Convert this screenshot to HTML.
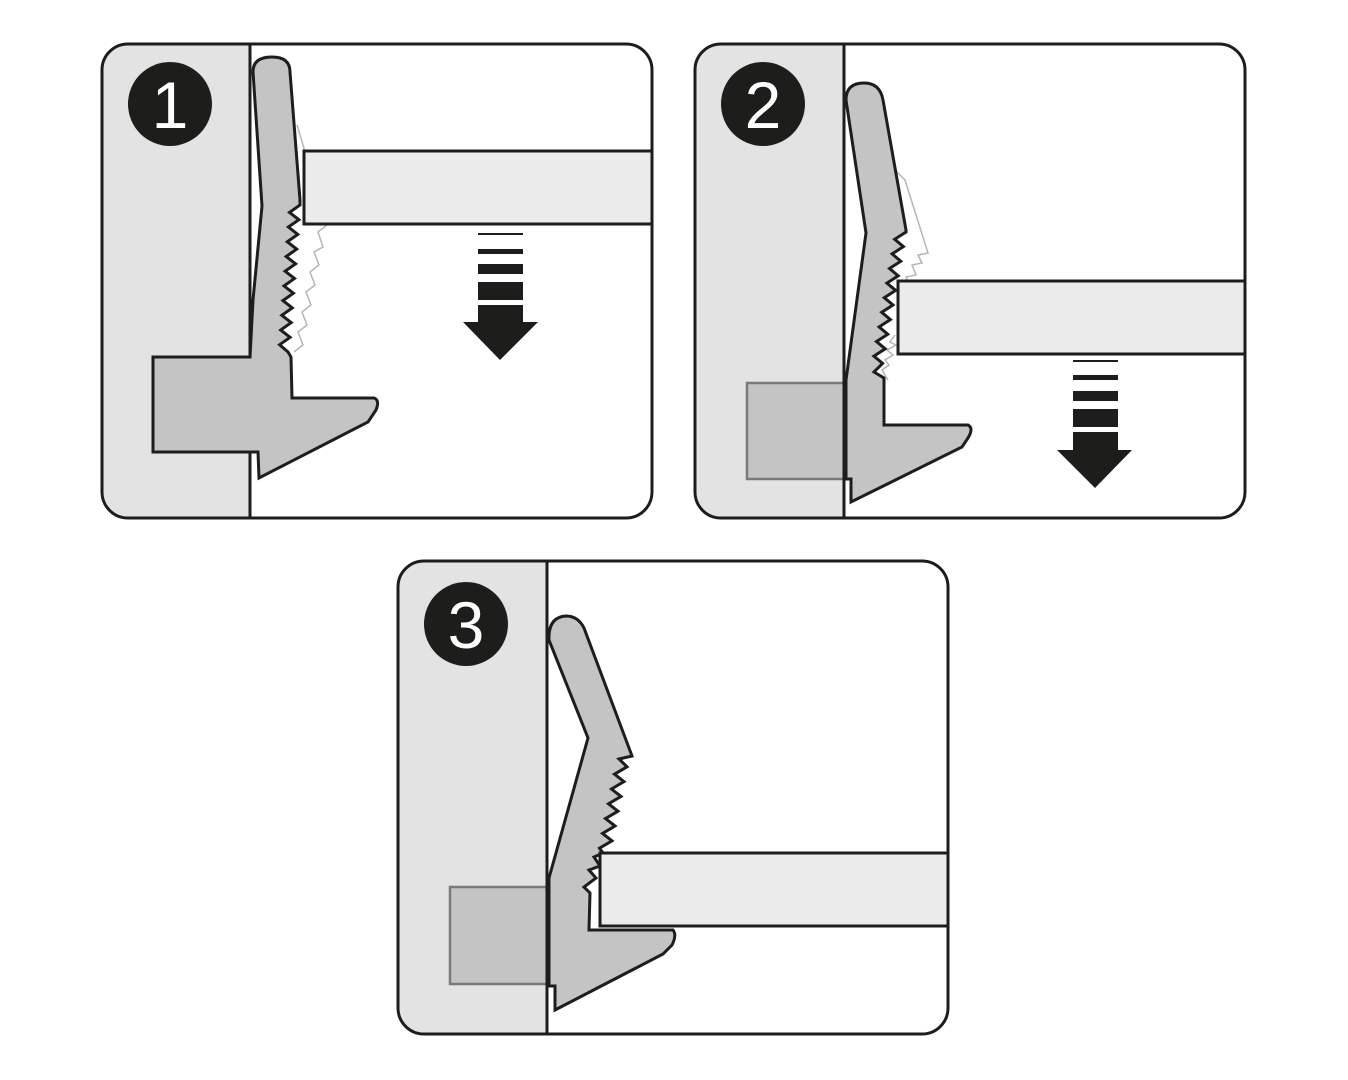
<!DOCTYPE html>
<html><head><meta charset="utf-8"><style>
html,body{margin:0;padding:0;background:#fff;width:1348px;height:1080px;overflow:hidden}
svg{display:block}
text{font-family:"Liberation Sans",sans-serif;font-weight:normal;fill:#fff}
</style></head><body>
<svg width="1348" height="1080" viewBox="0 0 1348 1080">
<defs>
<clipPath id="c1"><rect x="102" y="44" width="550" height="474" rx="26"/></clipPath>
<clipPath id="c2"><rect x="695" y="44" width="550" height="474" rx="26"/></clipPath>
<clipPath id="c3"><rect x="398" y="561" width="550" height="473" rx="26"/></clipPath>
</defs>

<!-- PANEL 1 -->
<g clip-path="url(#c1)">
<rect x="102" y="44" width="148" height="474" fill="#e3e3e3"/>
<line x1="250" y1="44" x2="250" y2="518" stroke="#1d1d1b" stroke-width="3"/>
<polyline points="297,125 327,225 318,232 323,247 314,252 319,265 310,272 315,285 306,292 311,305 302,312 307,325 298,332 303,345 294,352" fill="none" stroke="#b5b5b5" stroke-width="1.5"/>
<path d="M253,72 Q253,57 272,57 Q290,57 290,72 L300,200 L300,205 L289.5,212.4 L298.9,219.7 L288.4,227 L297.8,234.4 L287.3,241.8 L296.7,249.1 L286.2,256.5 L295.6,263.8 L285.1,271.2 L294.5,278.5 L284,285.9 L293.4,293.2 L282.9,300.6 L292.3,307.9 L281.8,315.3 L291.2,322.6 L280.7,330 L290.1,337.3 L279.6,344.7 L288,352 L291,357 L292,398 L374,398 Q380,400 376,410 L368,422 L259,478 L258,452 L153,452 L153,357 L250,357 L253,300 L262,206 Z" fill="#c4c4c4" stroke="#1d1d1b" stroke-width="3" stroke-linejoin="miter"/>
<rect x="304" y="151" width="350" height="73" fill="#ebebeb" stroke="#1d1d1b" stroke-width="3"/>
<rect x="478" y="233" width="45" height="2" fill="#1d1d1b"/>
<rect x="478" y="249" width="45" height="5" fill="#1d1d1b"/>
<rect x="478" y="264" width="45" height="10" fill="#1d1d1b"/>
<rect x="478" y="282" width="45" height="18" fill="#1d1d1b"/>
<rect x="478" y="305" width="45" height="18" fill="#1d1d1b"/>
<polygon points="463,322 538,322 500,360" fill="#1d1d1b"/>
</g>
<rect x="102" y="44" width="550" height="474" rx="26" fill="none" stroke="#1d1d1b" stroke-width="3"/>
<circle cx="170" cy="104" r="42" fill="#1d1d1b"/>
<text x="170" y="128" font-size="66" text-anchor="middle">1</text>

<!-- PANEL 2 -->
<g clip-path="url(#c2)">
<rect x="695" y="44" width="149" height="474" fill="#e3e3e3"/>
<rect x="747" y="383" width="97" height="96" fill="#c4c4c4" stroke="#7a7a7a" stroke-width="2.5"/>
<polyline points="850,125 905,180 928,253 918,255 922,263 912,265 916,275 906,277 910,287 900,290" fill="none" stroke="#b5b5b5" stroke-width="1.5"/>
<polyline points="895,335 890,342 896,345 887,350 893,355 885,360 889,365 882,370 888,380" fill="none" stroke="#b5b5b5" stroke-width="1.5"/>
<path d="M846,100 Q846,83 864,83 Q880,83 883,100 L906,230 L906,232 L894.7,239.3 L903.4,246.6 L892.1,253.9 L900.8,261.2 L889.5,268.5 L898.2,275.8 L886.9,283.1 L895.6,290.4 L884.3,297.7 L893,305 L881.7,312.3 L890.4,319.6 L879.1,326.9 L887.8,334.2 L876.5,341.5 L885.2,348.8 L873.9,356.1 L882.6,363.4 L874,372 L884,378 L884,425 L968,425 Q974,428 968,438 L962,447 L851,502 L851,479 L846,479 L846,380 L866,233 Z" fill="#c4c4c4" stroke="#1d1d1b" stroke-width="3"/>
<line x1="844" y1="44" x2="844" y2="518" stroke="#1d1d1b" stroke-width="3"/>
<rect x="898" y="281" width="350" height="73" fill="#ebebeb" stroke="#1d1d1b" stroke-width="3"/>
<rect x="1073" y="360" width="45" height="2" fill="#1d1d1b"/>
<rect x="1073" y="375" width="45" height="5" fill="#1d1d1b"/>
<rect x="1073" y="391" width="45" height="10" fill="#1d1d1b"/>
<rect x="1073" y="409" width="45" height="18" fill="#1d1d1b"/>
<rect x="1073" y="432" width="45" height="19" fill="#1d1d1b"/>
<polygon points="1057,450 1132,450 1095,488" fill="#1d1d1b"/>
</g>
<rect x="695" y="44" width="550" height="474" rx="26" fill="none" stroke="#1d1d1b" stroke-width="3"/>
<circle cx="763" cy="104" r="42" fill="#1d1d1b"/>
<text x="763" y="128" font-size="66" text-anchor="middle">2</text>

<!-- PANEL 3 -->
<g clip-path="url(#c3)">
<rect x="398" y="561" width="149" height="473" fill="#e3e3e3"/>
<rect x="450" y="887" width="97" height="97" fill="#c4c4c4" stroke="#7a7a7a" stroke-width="2.5"/>
<path d="M549,640 Q548,617 566,616 Q578,616 584,628 L632,756 L619,759 L627,766.8 L614.5,774.2 L624,781.6 L611.5,789 L621,796.4 L608.5,803.8 L618,811.2 L605.5,818.6 L615,826 L602.5,833.4 L612,840.8 L599.5,848.2 L603,853 L594,857 L600,866 L589,870 L596,878 L584,887 L590,893 L589,930 L673,930 Q677,935 672,945 L663,954 L555,1010 L555,986 L549,986 L549,878 L588,738 Z" fill="#c4c4c4" stroke="#1d1d1b" stroke-width="3"/>
<line x1="547" y1="561" x2="547" y2="1034" stroke="#1d1d1b" stroke-width="3"/>
<rect x="600" y="853" width="350" height="73" fill="#ebebeb" stroke="#1d1d1b" stroke-width="3"/>
</g>
<rect x="398" y="561" width="550" height="473" rx="26" fill="none" stroke="#1d1d1b" stroke-width="3"/>
<circle cx="466" cy="624" r="42" fill="#1d1d1b"/>
<text x="466" y="648" font-size="66" text-anchor="middle">3</text>
</svg>
</body></html>
